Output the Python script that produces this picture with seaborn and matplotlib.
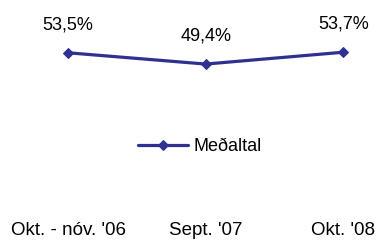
import pandas as pd
import seaborn as sns
import matplotlib.pyplot as plt

periods = ["Okt. - nóv. '06", "Sept. '07", "Okt. '08"]
values = [53.5, 49.4, 53.7]
labels = ["53,5%", "49,4%", "53,7%"]
series_name = "Meðaltal"

df = pd.DataFrame({"period": periods, "value": values})

sns.set_style("white")
plt.rcParams['font.family'] = ['Liberation Sans', 'DejaVu Sans']
plt.rcParams['text.color'] = 'black'
plt.rcParams['xtick.color'] = 'black'

fig = plt.figure(figsize=(3.79, 2.44), dpi=100)
ax = fig.add_axes([0, 29 / 244, 1, 215 / 244])

color = "#2E3192"
sns.lineplot(data=df, x="period", y="value", ax=ax, color=color,
             marker="D", markersize=5, markeredgecolor=color,
             linewidth=2.3, label=series_name, sort=False)

for i, (v, t) in enumerate(zip(values, labels)):
    ax.annotate(t, (i, v), xytext=(0, 17), textcoords="offset points",
                ha="center", va="baseline", fontsize=13, color="black")

ax.set_xlim(-0.495, 2.26)
ax.set_ylim(-5.5, 72.7)
ax.set_xlabel("")
ax.set_ylabel("")
ax.set_yticks([])
ax.tick_params(axis="x", length=0, pad=5, labelsize=13.5, labelcolor="black")
for s in ax.spines.values():
    s.set_visible(False)

leg = ax.legend(loc="center", bbox_to_anchor=(200 / 379, 1 - 147 / 244),
                bbox_transform=fig.transFigure, frameon=False, fontsize=13,
                handlelength=2.8, handletextpad=0.3)
for txt in leg.get_texts():
    txt.set_color("black")

fig.savefig("out.png", dpi=100)
